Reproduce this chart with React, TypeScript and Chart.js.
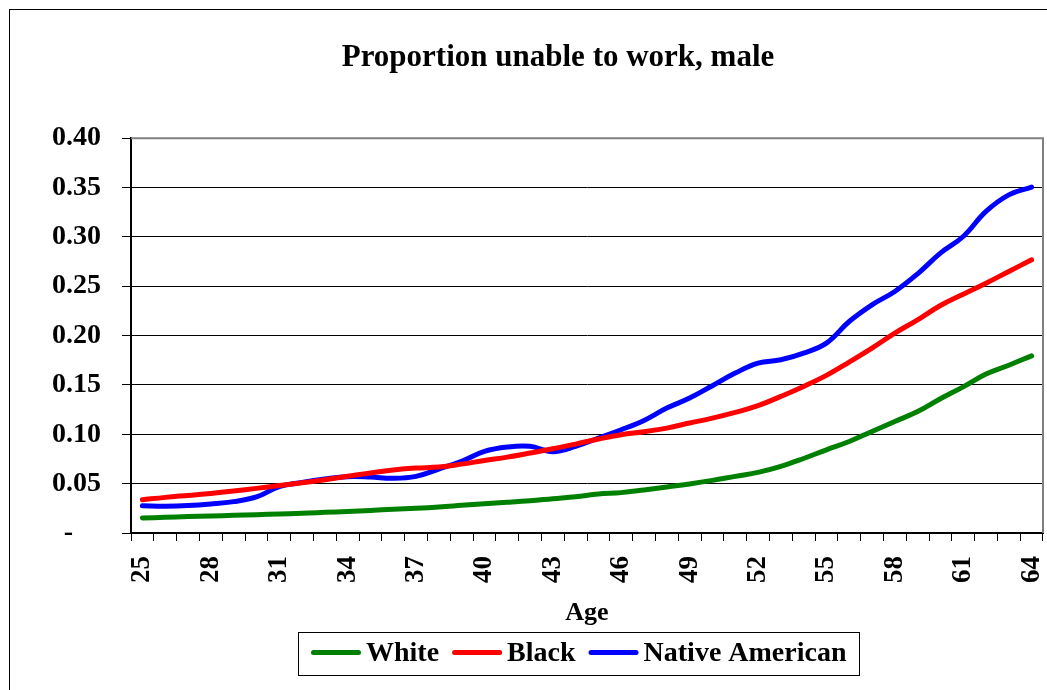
import React, { useEffect, useRef } from 'react';
import { Chart, registerables } from 'chart.js';

Chart.register(...registerables);

const AGES = ['25', '26', '27', '28', '29', '30', '31', '32', '33', '34', '35', '36', '37', '38', '39', '40', '41', '42', '43', '44', '45', '46', '47', '48', '49', '50', '51', '52', '53', '54', '55', '56', '57', '58', '59', '60', '61', '62', '63', '64'];

const WHITE = [0.0152, 0.0159, 0.0166, 0.0172, 0.0179, 0.0186, 0.0193, 0.0199, 0.0209, 0.0219, 0.0229, 0.024, 0.025, 0.0263, 0.028, 0.0297, 0.0311, 0.0327, 0.0348, 0.0368, 0.0395, 0.0409, 0.0436, 0.0466, 0.0497, 0.0533, 0.0574, 0.0614, 0.0675, 0.0755, 0.0843, 0.0927, 0.1029, 0.113, 0.123, 0.136, 0.148, 0.161, 0.17, 0.1795];

const BLACK = [0.0337, 0.0361, 0.0381, 0.0401, 0.0425, 0.0452, 0.0482, 0.0509, 0.054, 0.0574, 0.0608, 0.0638, 0.0658, 0.0668, 0.0698, 0.0735, 0.0769, 0.081, 0.0853, 0.0901, 0.0952, 0.0996, 0.1026, 0.1063, 0.1114, 0.1164, 0.1222, 0.129, 0.1384, 0.1485, 0.1597, 0.1732, 0.1873, 0.2025, 0.216, 0.2305, 0.242, 0.2531, 0.265, 0.2768];

const NATIVE = [0.0276, 0.0272, 0.0278, 0.0294, 0.0318, 0.0365, 0.047, 0.0513, 0.0547, 0.0571, 0.0567, 0.0554, 0.0574, 0.0648, 0.0726, 0.0827, 0.0871, 0.0878, 0.0824, 0.0878, 0.0962, 0.1046, 0.1141, 0.1266, 0.1367, 0.1492, 0.162, 0.1721, 0.1755, 0.1823, 0.1924, 0.2143, 0.2312, 0.2447, 0.2626, 0.2835, 0.3004, 0.3258, 0.3426, 0.3504];

const SERIES_NAMES = ['White', 'Black', 'Native American'];
const SERIES_COLORS = ['#008000', '#FF0000', '#0000FF'];

const TITLE = 'Proportion unable to work, male';
const X_TITLE = 'Age';
const Y_MIN = 0;
const Y_MAX = 0.4;
const Y_STEP = 0.05;
const ZERO_LABEL = '-\u00a0\u00a0\u00a0\u00a0';
const X_LABEL_EVERY = 3;

const FONT = '"Liberation Serif", "Times New Roman", serif';

const framePlugin = {
  id: 'plotFrame',
  afterDatasetsDraw(chart: any) {
    const { ctx, chartArea } = chart;
    ctx.save();
    ctx.strokeStyle = '#808080';
    ctx.lineWidth = 2;
    ctx.beginPath();
    ctx.moveTo(chartArea.left, chartArea.top);
    ctx.lineTo(chartArea.right, chartArea.top);
    ctx.lineTo(chartArea.right, chartArea.bottom);
    ctx.stroke();
    ctx.restore();
  },
};

const boxLegendPlugin = {
  id: 'boxLegend',
  afterDraw(chart: any) {
    const { ctx } = chart;
    const opts = chart.options.plugins.boxLegend;
    const datasets = chart.data.datasets;
    ctx.save();
    ctx.font = `bold ${opts.fontSize}px ${FONT}`;
    const widths = datasets.map((d: any) => ctx.measureText(d.label).width);
    let total = 0;
    widths.forEach((w: number, i: number) => {
      total += opts.sample + opts.gapText + w + (i > 0 ? opts.gapItem : 0);
    });
    const boxW = Math.round(total + opts.padX * 2);
    const left = Math.round(opts.centerX - boxW / 2);
    const top = opts.top;
    ctx.fillStyle = '#fff';
    ctx.fillRect(left, top, boxW, opts.height);
    ctx.strokeStyle = '#000';
    ctx.lineWidth = 1;
    ctx.strokeRect(left + 0.5, top + 0.5, boxW, opts.height);
    const cy = top + opts.height / 2;
    let x = left + opts.padX;
    datasets.forEach((d: any, i: number) => {
      if (i > 0) x += opts.gapItem;
      ctx.strokeStyle = d.borderColor;
      ctx.lineWidth = 5;
      ctx.lineCap = 'round';
      ctx.beginPath();
      ctx.moveTo(x + 2.5, cy - 1);
      ctx.lineTo(x + opts.sample - 2.5, cy - 1);
      ctx.stroke();
      x += opts.sample + opts.gapText;
      ctx.fillStyle = '#000';
      ctx.textBaseline = 'middle';
      ctx.textAlign = 'left';
      ctx.fillText(d.label, x, cy);
      x += widths[i];
    });
    ctx.restore();
  },
};

export default function App() {
  const ref = useRef<HTMLCanvasElement>(null);

  useEffect(() => {
    if (!ref.current) return;
    Chart.defaults.font.family = FONT;
    const seriesData = [WHITE, BLACK, NATIVE];
    const chart = new Chart(ref.current, {
      type: 'line',
      data: {
        labels: AGES,
        datasets: seriesData.map((data, i) => ({
          label: SERIES_NAMES[i],
          data,
          borderColor: SERIES_COLORS[i],
          backgroundColor: SERIES_COLORS[i],
          borderWidth: 5,
          pointRadius: 0,
          tension: 0.4,
          fill: false,
          borderCapStyle: 'round',
          borderJoinStyle: 'round',
          yAxisID: 'y',
        })),
      },
      options: {
        responsive: false,
        animation: false,
        events: [],
        layout: { padding: { left: 51, right: 51, top: 0, bottom: 57 } },
        plugins: {
          legend: { display: false },
          tooltip: { enabled: false },
          title: {
            display: true,
            text: TITLE,
            color: '#000',
            font: { family: FONT, size: 31, weight: 'bold' },
            padding: { top: 39, bottom: 62 },
          },
          boxLegend: {
            fontSize: 28,
            sample: 50,
            gapText: 5,
            gapItem: 13,
            padX: 13,
            centerX: 578,
            top: 632,
            height: 43,
          },
        } as any,
        scales: {
          x: {
            type: 'category',
            offset: true,
            title: {
              display: true,
              text: X_TITLE,
              color: '#000',
              font: { family: FONT, size: 26, weight: 'bold' },
              padding: { top: 0, bottom: 4 },
            },
            ticks: {
              color: '#000',
              font: { family: FONT, size: 27, weight: 'bold' },
              autoSkip: false,
              maxRotation: 90,
              minRotation: 90,
              padding: 15,
              callback: (_v: any, index: number) => (index % X_LABEL_EVERY === 0 ? AGES[index] : ''),
            },
            grid: {
              display: true,
              drawOnChartArea: false,
              drawTicks: true,
              tickLength: 8,
              tickColor: '#000',
              offset: true,
            },
            border: { display: true, color: '#000', width: 2 },
            afterFit: (s: any) => {
              s.height = 100;
            },
          },
          y: {
            position: 'left',
            min: Y_MIN,
            max: Y_MAX,
            ticks: {
              stepSize: Y_STEP,
              padding: 21,
              color: '#000',
              font: { family: FONT, size: 28, weight: 'bold' },
              callback: (v: any) => (Math.abs(Number(v)) < 1e-9 ? ZERO_LABEL : Number(v).toFixed(2)),
            },
            grid: {
              color: (c: any) => (c.tick && Math.abs(c.tick.value - Y_MAX) < 1e-9 ? 'rgba(0,0,0,0)' : '#000'),
              lineWidth: 1,
              drawTicks: true,
              tickLength: 9,
              tickColor: '#000',
            },
            border: { display: true, color: '#000', width: 2 },
            afterFit: (s: any) => {
              s.width = 80;
            },
          },
          spacer: {
            type: 'linear',
            position: 'right',
            display: true,
            min: Y_MIN,
            max: Y_MAX,
            ticks: { display: false },
            grid: { display: false, drawTicks: false },
            border: { display: false },
            afterFit: (s: any) => {
              s.width = 22;
            },
          },
        } as any,
      },
      plugins: [framePlugin, boxLegendPlugin],
    } as any);
    return () => chart.destroy();
  }, []);

  return (
    <div
      style={{
        position: 'fixed',
        left: 0,
        top: 0,
        width: 1047,
        height: 690,
        overflow: 'hidden',
        background: '#fff',
      }}
    >
      <canvas
        ref={ref}
        width={1116}
        height={690}
        style={{ position: 'absolute', left: 0, top: 0, display: 'block' }}
      />
      <div
        style={{
          position: 'absolute',
          left: 9,
          top: 9,
          width: 1200,
          height: 800,
          border: '1px solid #000',
          pointerEvents: 'none',
        }}
      />
    </div>
  );
}
